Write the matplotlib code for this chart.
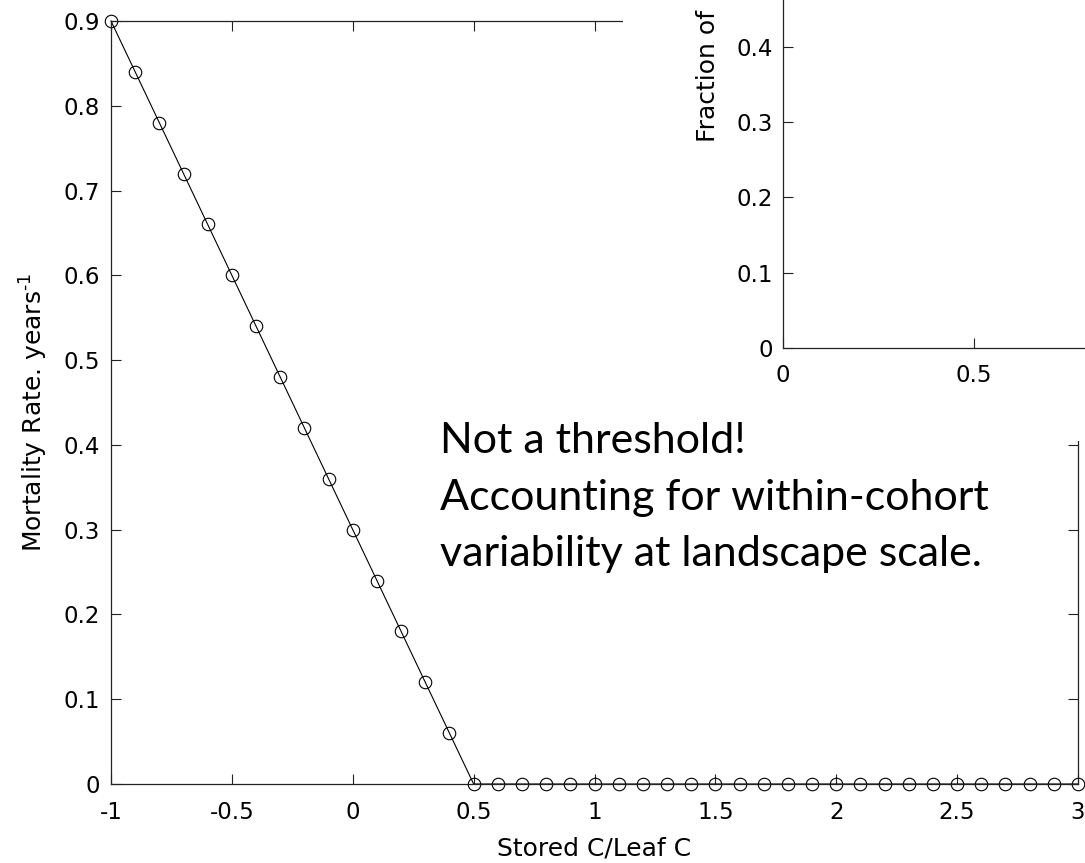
import matplotlib
matplotlib.use("Agg")
import matplotlib.pyplot as plt
from matplotlib.patches import Rectangle

plt.rcParams['font.family'] = ['DejaVu Sans']
plt.rcParams['axes.unicode_minus'] = False

# stored C / leaf C ratio and the mortality rate
stored_ratio = [-1.0, -0.9, -0.8, -0.7, -0.6, -0.5, -0.4, -0.3, -0.2, -0.1,
                0.0, 0.1, 0.2, 0.3, 0.4, 0.5, 0.6, 0.7, 0.8, 0.9,
                1.0, 1.1, 1.2, 1.3, 1.4, 1.5, 1.6, 1.7, 1.8, 1.9,
                2.0, 2.1, 2.2, 2.3, 2.4, 2.5, 2.6, 2.7, 2.8, 2.9, 3.0]
mortality = [0.90, 0.84, 0.78, 0.72, 0.66, 0.60, 0.54, 0.48, 0.42, 0.36,
             0.30, 0.24, 0.18, 0.12, 0.06, 0.0, 0.0, 0.0, 0.0, 0.0,
             0.0, 0.0, 0.0, 0.0, 0.0, 0.0, 0.0, 0.0, 0.0, 0.0,
             0.0, 0.0, 0.0, 0.0, 0.0, 0.0, 0.0, 0.0, 0.0, 0.0, 0.0]

x_ticks = [-1, -0.5, 0, 0.5, 1, 1.5, 2, 2.5, 3]
x_tick_labels = ['-1', '-0.5', '0', '0.5', '1', '1.5', '2', '2.5', '3']
y_ticks = [0, 0.1, 0.2, 0.3, 0.4, 0.5, 0.6, 0.7, 0.8, 0.9]
y_tick_labels = ['0', '0.1', '0.2', '0.3', '0.4', '0.5', '0.6', '0.7', '0.8', '0.9']

inset_x_ticks = [0, 0.5]
inset_x_labels = ['0', '0.5']
inset_y_ticks = [0, 0.1, 0.2, 0.3, 0.4]
inset_y_labels = ['0', '0.1', '0.2', '0.3', '0.4']

note_lines = ['Not a threshold!',
              'Accounting for within-cohort',
              'variability at landscape scale.']

W, H = 1085, 863
TICK_FS = 16.5
LABEL_FS = 18
fig = plt.figure(figsize=(W / 100, H / 100), dpi=100)

# main axes (pixel box: left 111, right 1078, top 21, bottom 784)
ax = fig.add_axes([111 / W, 1 - 784 / H, 967 / W, 763 / H], zorder=0)
ax.plot(stored_ratio, mortality, '-o', color='black', lw=0.8,
        mfc='none', mec='black', ms=9, mew=0.8, clip_on=False)
ax.set_xlim(-1, 3)
ax.set_ylim(0, 0.9)
ax.set_xticks(x_ticks)
ax.set_xticklabels(x_tick_labels)
ax.set_yticks(y_ticks)
ax.set_yticklabels(y_tick_labels)
ax.tick_params(direction='in', length=7, width=0.8, top=True, right=True,
               labelsize=TICK_FS, colors='#222222', labelcolor='black')
ax.tick_params(axis='y', pad=8)
ax.tick_params(axis='x', pad=12)
for s in ax.spines.values():
    s.set_linewidth(0.9)
    s.set_color('#222222')

fig.text(43 / W, 1 - 412 / H, r'Mortality Rate. years$^{\text{-}1}$',
         rotation=90, rotation_mode='anchor', ha='center', va='baseline',
         fontsize=LABEL_FS)
fig.text(594 / W, 1 - 855 / H, 'Stored C/Leaf C', ha='center',
         va='baseline', fontsize=LABEL_FS)

# white patch where the second panel sits on top of the first
fig.add_artist(Rectangle((623 / W, 1 - 441 / H), 1 - 623 / W, 441 / H,
                         transform=fig.transFigure, facecolor='white',
                         edgecolor='none', zorder=1))

# partly visible second panel (0 at x=783, 0.5 at x=974; 0.1 per 75 px)
axin = fig.add_axes([783 / W, 1 - 348 / H, 1 - 783 / W, 348 / H], zorder=2)
axin.set_xlim(0, (W - 783) / 382)
axin.set_ylim(0, 348 / 752.5)
axin.set_xticks(inset_x_ticks)
axin.set_xticklabels(inset_x_labels)
axin.set_yticks(inset_y_ticks)
axin.set_yticklabels(inset_y_labels)
axin.tick_params(direction='in', length=7, width=0.8, labelsize=TICK_FS,
                 colors='#222222', labelcolor='black')
axin.tick_params(axis='y', pad=7)
axin.tick_params(axis='x', pad=11.5)
axin.spines['top'].set_visible(False)
axin.spines['right'].set_visible(False)
for s in ['left', 'bottom']:
    axin.spines[s].set_linewidth(0.9)
    axin.spines[s].set_color('#222222')
fig.text(715 / W, 1 - 142 / H, 'Fraction of', rotation=90,
         rotation_mode='anchor', ha='left', va='baseline',
         fontsize=LABEL_FS, zorder=3)

# slide annotation
for line, base in zip(note_lines, [453, 510, 566]):
    fig.text(440 / W, 1 - base / H, line, ha='left', va='baseline',
             fontsize=31, family='Lato', zorder=3)

fig.savefig('out.png', dpi=100, facecolor='white')
